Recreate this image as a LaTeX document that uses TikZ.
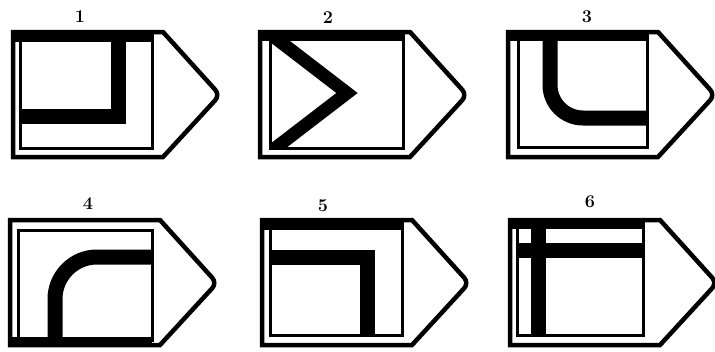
\documentclass[tikz,border=0pt]{standalone}
\begin{document}
\begin{tikzpicture}[x=1pt,y=-1pt,
  outer/.style={line width=4.5pt,line join=miter},
  innersq/.style={line width=3pt},
  band/.style={fill=black},
  bar/.style={line width=15pt,line join=miter},
  lbl/.style={font=\fontsize{18}{18}\selectfont\bfseries,inner sep=0pt}]
\useasboundingbox (0,0) rectangle (715,351);
\newcommand{\pentagon}{%
  \draw[outer] (0,0) -- (150,0) [rounded corners=7pt]-- (207,63) [sharp corners]-- (150,125) -- (0,125) -- cycle;}
% Panel 1
\begin{scope}[shift={(13,32)}]
  \pentagon
  \draw[innersq] (7,3) rectangle (139,116);
  \fill[band] (0,-2) rectangle (139,10);
  \draw[bar] (7,84) -- (105,84) -- (105,5);
\end{scope}
\node[lbl] (l1) at (80,17) {1};
% Panel 2
\begin{scope}[shift={(260,32)}]
  \pentagon
  \draw[innersq] (10,3) rectangle (143,116);
  \fill[band] (0,-2) rectangle (143,9);
  \begin{scope}
    \clip (10,0) rectangle (143,116);
    \draw[line width=13pt,line join=miter] (5,-2) -- (87,61) -- (5,124);
  \end{scope}
\end{scope}
\node[lbl] (l2) at (328,18) {2};
% Panel 3
\begin{scope}[shift={(508,32)}]
  \pentagon
  \draw[innersq] (10,3) rectangle (139,115);
  \fill[band] (0,-2) rectangle (139,9);
  \draw[bar] (42,5) -- (42,53) arc[start angle=180,end angle=90,x radius=33pt,y radius=-33pt] -- (139,86);
\end{scope}
\node[lbl] (l3) at (587,17) {3};
% Panel 4
\begin{scope}[shift={(10,220)}]
  \pentagon
  \draw[innersq] (8,10) rectangle (142,120);
  \fill[band] (0,117) rectangle (142,127);
  \draw[bar] (45,118) -- (45,79) arc[start angle=180,end angle=90,x radius=42pt,y radius=42pt] -- (142,37);
\end{scope}
\node[lbl] (l4) at (88,204) {4};
% Panel 5
\begin{scope}[shift={(262,220)}]
  \pentagon
  \draw[innersq] (8,3) rectangle (140,115);
  \fill[band] (0,-2) rectangle (140,10);
  \draw[bar] (8,37) -- (105,37) -- (105,115);
\end{scope}
\node[lbl] (l5) at (323,206) {5};
% Panel 6
\begin{scope}[shift={(510,220)}]
  \pentagon
  \draw[innersq] (7,3) rectangle (133,115);
  \fill[band] (0,-2) rectangle (133,9);
  \draw[bar] (28,5) -- (28,115);
  \draw[bar] (7,30) -- (133,30);
\end{scope}
\node[lbl] (l6) at (590,202) {6};
\end{tikzpicture}
\end{document}
